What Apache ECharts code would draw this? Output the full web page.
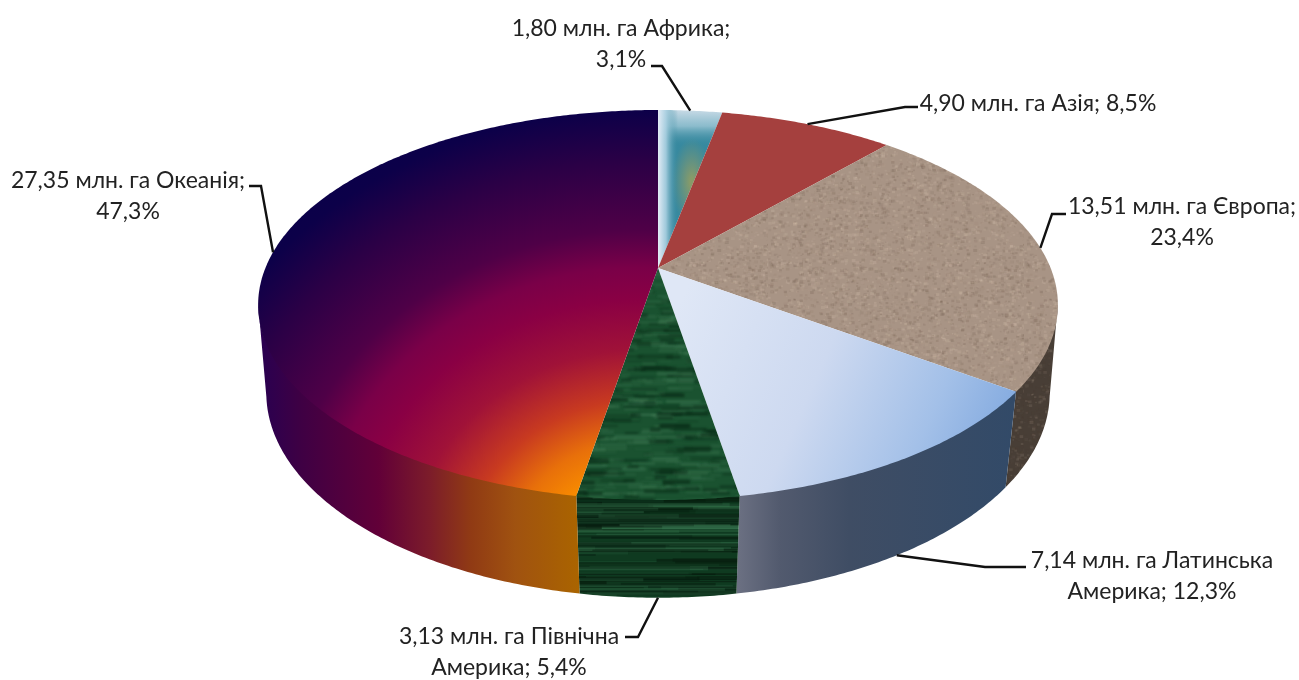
<!DOCTYPE html>
<html><head><meta charset="utf-8">
<style>html,body{margin:0;padding:0;background:#fff}#c{width:1299px;height:680px}</style>
<script src="https://cdn.jsdelivr.net/npm/echarts@6/dist/echarts.min.js"></script>
</head><body><div id="c"></div>
<script>
// ---- data ----
const regions = ['Африка','Азія','Європа','Латинська Америка','Північна Америка','Океанія'];
const areas = [1.80, 4.90, 13.51, 7.14, 3.13, 27.35];
const labelLines = [
  ['1,80 млн. га Африка;','3,1%'],
  ['4,90 млн. га Азія; 8,5%'],
  ['13,51 млн. га Європа;','23,4%'],
  ['7,14 млн. га Латинська','Америка; 12,3%'],
  ['3,13 млн. га Північна','Америка; 5,4%'],
  ['27,35 млн. га Океанія;','47,3%']
];
// ---- layout ----
const W=1299,H=680, FONT='Lato, "Open Sans", "Noto Sans", sans-serif', FS=23, LH=31;
const cx=658;
const topDisc={y0:268,a:188,b:392.6,p:0.19}, botDisc={y0:358,a:199,b:386,p:0.17};
const wallTopDisc=Object.assign({},topDisc,{y0:topDisc.y0-2}); // tucked under the top so no seam shows
const labelLayout=[
 {x:621,y:29,align:'center',elbow:[[662,66],[651,66]],rim:'top'},
 {x:1038,y:104,align:'center',elbow:[[905,107],[918,107]],rim:'top'},
 {x:1182,y:207,align:'center',elbow:[[1052,214],[1066,214]],rim:'top'},
 {x:1152,y:561,align:'center',elbow:[[985,567],[1026,567]],rim:'bot'},
 {x:509,y:637,align:'center',elbow:[[638,637],[625,637]],rim:'bot'},
 {x:128,y:181,align:'center',elbow:[[261,186],[249,186]],rim:'top'}
];
const total=areas.reduce((a,b)=>a+b,0);
const starts=[];areas.reduce((s,v,i)=>(starts[i]=s,s+v),0);
function proj(d,th){const u=Math.sin(th),v=-Math.cos(th),w=1-d.p*v;return [cx+d.b*u/w,d.y0+d.a*v/w];}
function ang(val){return val/total*Math.PI*2;}
function arc(d,a0,a1){const n=Math.max(4,Math.ceil((a1-a0)/0.01)),pts=[];for(let i=0;i<=n;i++)pts.push(proj(d,a0+(a1-a0)*i/n));return pts;}
// the wall is visible only between the two silhouette angles of the top rim
const wallFrom=Math.acos(-topDisc.p), wallTo=2*Math.PI-wallFrom;

// ---- textures (deterministic) ----
function lcg(seed){let s=seed>>>0;return ()=>{s=(Math.imul(s,1664525)+1013904223)>>>0;return s/4294967296;};}
function mk(w,h){const c=document.createElement('canvas');c.width=w;c.height=h;return c;}
function granite(base,amp,seed){
  const r=lcg(seed),c=mk(256,256),g=c.getContext('2d');
  g.fillStyle=`rgb(${base})`;g.fillRect(0,0,256,256);
  g.filter='blur(0.7px)';
  for(let i=0;i<7000;i++){const d=(r()-0.5)*amp;const x=r()*256,y=r()*256,s=1.5+r()*2.5;
    g.fillStyle=d>0?`rgba(225,205,185,${d/120})`:`rgba(80,60,45,${-d/150})`;g.fillRect(x,y,s,s*0.8);}
  return c;
}
function marble(seed){
  const r=lcg(seed),c=mk(256,256),g=c.getContext('2d');
  g.fillStyle='#1a5230';g.fillRect(0,0,256,256);
  g.filter='blur(1px)';
  for(let i=0;i<900;i++){const x=r()*256,y=r()*256,l=8+r()*30,t=r();
    g.fillStyle=t>0.55?`rgba(8,42,22,${0.25+r()*0.35})`:`rgba(95,155,115,${0.05+r()*0.18})`;
    g.fillRect(x,y,l,1.5+r()*3);}
  return c;
}
function streak(seed){
  const r=lcg(seed),c=mk(400,200),g=c.getContext('2d');
  g.fillStyle='#0f3a20';g.fillRect(0,0,400,200);
  g.filter='blur(0.7px)';
  for(let i=0;i<300;i++){const x=r()*400-100,y=r()*200,l=100+r()*300,t=r();
    g.fillStyle=t>0.5?`rgba(6,28,14,${0.3+r()*0.4})`:`rgba(60,125,85,${0.1+r()*0.25})`;
    g.fillRect(x,y,l,1+r()*3);}
  return c;
}
function africaImg(){
  const c=mk(W,H),g=c.getContext('2d');
  g.fillStyle='#37899f';g.fillRect(0,0,W,H);
  g.save();g.translate(692,182);g.scale(1,2.2);
  let rg=g.createRadialGradient(0,0,2,0,0,20);
  rg.addColorStop(0,'rgba(135,155,105,1)');rg.addColorStop(1,'rgba(125,150,115,0)');
  g.fillStyle=rg;g.fillRect(-60,-60,120,120);g.restore();
  let lg=g.createLinearGradient(0,110,0,146);
  lg.addColorStop(0,'rgba(200,218,230,1)');lg.addColorStop(0.45,'rgba(160,200,215,.8)');lg.addColorStop(1,'rgba(55,137,159,0)');
  g.fillStyle=lg;g.fillRect(0,110,W,36);
  lg=g.createLinearGradient(658,0,678,0);
  lg.addColorStop(0,'rgba(228,236,246,1)');lg.addColorStop(0.4,'rgba(170,208,225,.9)');lg.addColorStop(1,'rgba(55,137,159,0)');
  g.fillStyle=lg;g.fillRect(658,0,20,H);
  return c;
}
function oceaniaImg(){
  const c=mk(W,H),g=c.getContext('2d');
  g.fillStyle='#070049';g.fillRect(0,0,W,H);
  g.save();g.translate(640,560);g.scale(1.1,1);
  const rg=g.createRadialGradient(0,0,0,0,0,500);
  [[0.176,'#f78a00'],[0.24,'#e8700a'],[0.32,'#c83a20'],[0.42,'#a01238'],[0.52,'#8a0044'],[0.585,'#7a0048'],
   [0.66,'#4f0047'],[0.8,'#2a0046'],[0.9,'#0c0049'],[1,'#070049']].forEach(s=>rg.addColorStop(s[0],s[1]));
  g.fillStyle=rg;g.fillRect(-700,-700,1400,1400);g.restore();
  return c;
}
function globalLinear(x0,y0,x1,y1,stops){return new echarts.graphic.LinearGradient(x0,y0,x1,y1,stops.map(s=>({offset:s[0],color:s[1]})),true);}
const topFills=[
 {image:africaImg(),repeat:'no-repeat'},
 '#a5403e',
 {image:granite('168,148,133',45,7),repeat:'repeat'},
 globalLinear(690,280,1005,420,[[0,'#dfe7f6'],[0.45,'#cdd9f0'],[0.8,'#a3c0e8'],[1,'#86ace0']]),
 {image:marble(21),repeat:'repeat'},
 {image:oceaniaImg(),repeat:'no-repeat'}
];
const sideFills=[
 '#666','#633',
 {image:granite('72,62,54',30,33),repeat:'repeat'},
 globalLinear(738,0,1016,0,[[0,'#6b7082'],[0.15,'#525a6e'],[0.4,'#3f4d64'],[1,'#324a68']]),
 {image:streak(5),repeat:'repeat'},
 globalLinear(262,0,578,0,[[0,'#2a0050'],[0.12,'#3e0044'],[0.37,'#620038'],[0.53,'#7c1c2a'],[0.66,'#903a14'],[0.8,'#a05210'],[1,'#aa6400']])
];

function sideItem(params,api){
  const i=params.dataIndex,a0=Math.max(ang(api.value(1)),wallFrom),a1=Math.min(ang(api.value(1))+ang(api.value(0)),wallTo);
  if(a1<=a0)return null;
  const pts=arc(wallTopDisc,a0,a1).concat(arc(botDisc,a0,a1).reverse());
  return {type:'polygon',silent:true,shape:{points:pts},style:{fill:sideFills[i]}};
}
function topItem(params,api){
  const i=params.dataIndex,a0=ang(api.value(1)),a1=a0+ang(api.value(0));
  return {type:'polygon',silent:true,shape:{points:[[cx,topDisc.y0]].concat(arc(topDisc,a0,a1))},style:{fill:topFills[i]}};
}
function labelItem(params,api){
  const i=params.dataIndex,L=labelLayout[i],mid=ang(api.value(1)+api.value(0)/2);
  const start=proj(L.rim==='top'?topDisc:botDisc,mid);
  const kids=[{type:'polyline',silent:true,shape:{points:[start].concat(L.elbow)},style:{stroke:'#111',lineWidth:2.4,fill:null}}];
  labelLines[i].forEach((t,k)=>kids.push({type:'text',silent:true,style:{text:t,x:L.x,y:L.y+k*LH,align:L.align,verticalAlign:'middle',fill:'#222',font:FS+'px '+FONT}}));
  return {type:'group',children:kids};
}
const rows=areas.map((v,i)=>[v,starts[i]]);
const chart=echarts.init(document.getElementById('c'),null,{renderer:'canvas',width:W,height:H});
const common={type:'custom',coordinateSystem:'none',data:rows,animation:false,silent:true};
chart.setOption({
  backgroundColor:'#fff',animation:false,tooltip:{show:false},
  series:[
   Object.assign({},common,{name:'side',renderItem:sideItem,z:1}),
   Object.assign({},common,{name:'top',renderItem:topItem,z:2}),
   Object.assign({},common,{name:'labels',renderItem:labelItem,z:3})
  ]
});
</script></body></html>
